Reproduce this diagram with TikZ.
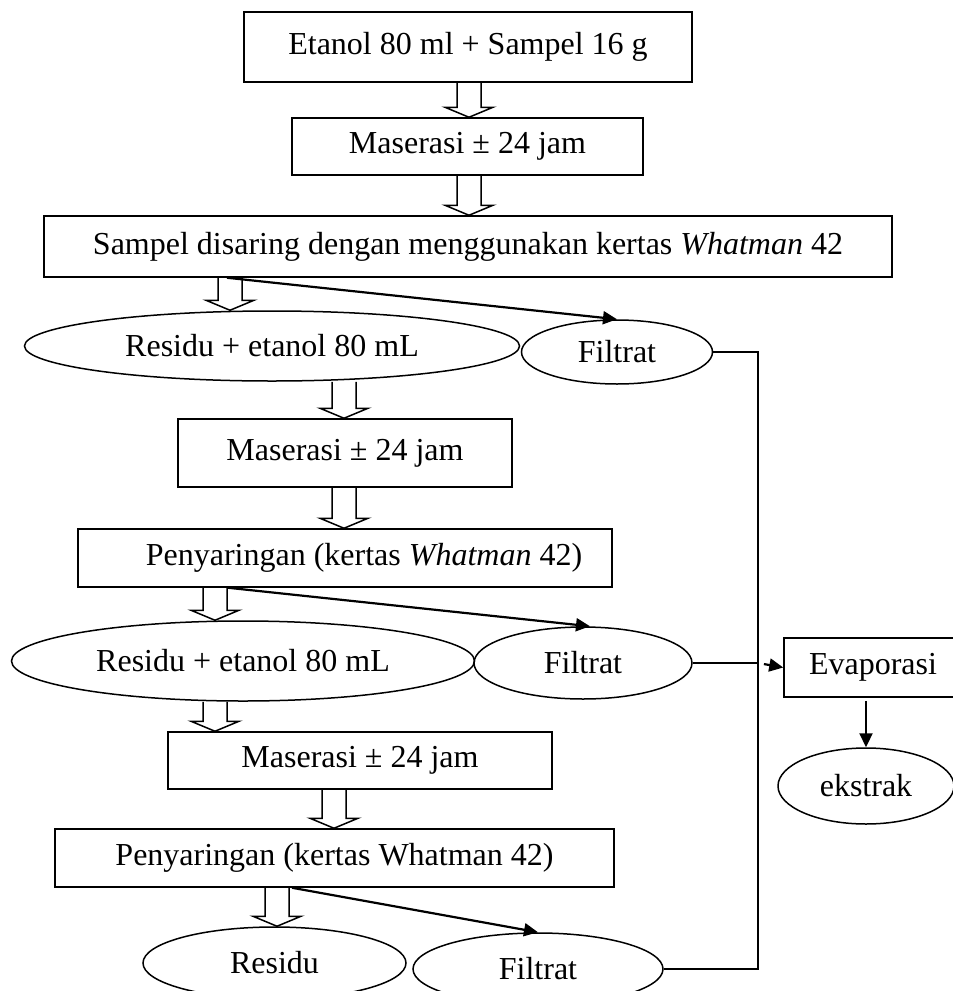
\documentclass[tikz,border=0pt]{standalone}
\usepackage{fontspec}
\setmainfont{Liberation Serif}
\usetikzlibrary{shapes.geometric,arrows.meta,calc}

% Hollow block arrow: #1 = x position, #2 = upper node, #3 = lower node
\newcommand{\hollowdown}[3]{%
  \coordinate (ha-x) at (#1,0);
  \coordinate (ha-top) at (#2.south -| ha-x);
  \coordinate (ha-tip) at (#3.north -| ha-x);
  \draw[hollow] ($(ha-top)+(-12,0)$) -- ($(ha-tip)+(-12,-10)$) -- ($(ha-tip)+(-24,-10)$)
    -- (ha-tip) -- ($(ha-tip)+(24,-10)$) -- ($(ha-tip)+(12,-10)$) -- ($(ha-top)+(12,0)$);
}

\begin{document}
\begin{tikzpicture}[x=1pt,y=-1pt,
    font=\fontsize{32}{38}\selectfont,
    box/.style={draw, line width=1.5pt, rectangle, inner sep=0pt},
    oval/.style={draw, line width=1.5pt, ellipse, inner sep=0pt},
    hollow/.style={line width=1.5pt},
    flow/.style={line width=2.2pt, -{Triangle[length=14pt,width=13pt]}},
    bus/.style={line width=1.5pt}]

    % Frame of the picture
    \clip (0,0) rectangle (953,991);

    % First maceration
    \node[box, minimum width=448pt, minimum height=70pt] (etanol) at (468,47) {Etanol 80 ml + Sampel 16 g};
    \node[box, minimum width=351pt, minimum height=57pt] (maser1) at (467.5,146.5) {Maserasi ± 24 jam};
    \node[box, minimum width=848pt, minimum height=61pt] (saring1) at (468,246.5) {Sampel disaring dengan menggunakan kertas \textit{Whatman} 42};
    \node[oval, minimum width=495pt, minimum height=70pt] (residu1) at (272,346) {Residu + etanol 80 mL};
    \node[oval, minimum width=191pt, minimum height=64pt] (filtrat1) at (617,352) {\raisebox{-6pt}{Filtrat}};

    % Second maceration
    \node[box, minimum width=334pt, minimum height=68pt] (maser2) at (345,453) {Maserasi ± 24 jam};
    \node[box, minimum width=534pt, minimum height=58pt] (saring2) at (345,558) {\hspace{38pt}Penyaringan (kertas \textit{Whatman} 42)};
    \node[oval, minimum width=463pt, minimum height=80pt] (residu2) at (243,661) {Residu + etanol 80 mL};
    \node[oval, minimum width=218pt, minimum height=72pt] (filtrat2) at (583,663) {\raisebox{-4pt}{Filtrat}};

    % Third maceration
    \node[box, minimum width=384pt, minimum height=57pt] (maser3) at (360,760.5) {Maserasi ± 24 jam};
    \node[box, minimum width=559pt, minimum height=58pt] (saring3) at (334.5,858) {Penyaringan (kertas Whatman 42)};
    \node[oval, minimum width=263pt, minimum height=72pt] (residu3) at (274.5,963) {Residu};
    \node[oval, minimum width=250pt, minimum height=72pt] (filtrat3) at (538,969) {Filtrat};

    % Evaporation
    \node[box, minimum width=178pt, minimum height=59pt] (evap) at (873,667.5) {Evaporasi};
    \node[oval, minimum width=176pt, minimum height=76pt] (ekstrak) at (866,786) {ekstrak};

    % Hollow arrows down the main line
    \hollowdown{469}{etanol}{maser1}
    \hollowdown{469}{maser1}{saring1}
    \hollowdown{230}{saring1}{residu1}
    \hollowdown{344}{residu1}{maser2}
    \hollowdown{344}{maser2}{saring2}
    \hollowdown{215}{saring2}{residu2}
    \hollowdown{215}{residu2}{maser3}
    \hollowdown{334}{maser3}{saring3}
    \hollowdown{277}{saring3}{residu3}

    % Filtrate arrows
    \coordinate (f1) at (227,0);
    \coordinate (f2) at (228,0);
    \coordinate (f3) at (292,0);
    \draw[flow] (saring1.south -| f1) -- (filtrat1.north);
    \draw[flow] (saring2.south -| f2) -- ($(filtrat2.north)+(7,0)$);
    \draw[flow] (saring3.south -| f3) -- (filtrat3.north);

    % Collecting line to the evaporator
    \coordinate (bus) at (758,0);
    \draw[bus] (filtrat1.east) -- (filtrat1.east -| bus) -- (filtrat3.east -| bus) -- (filtrat3.east);
    \draw[bus] (filtrat2.east) -- (filtrat2.east -| bus);
    \draw[flow, shorten <=6pt] (filtrat2.east -| bus) -- (evap.west);
    \draw[flow, shorten <=3pt] (evap.south -| ekstrak.north) -- (ekstrak.north);
\end{tikzpicture}
\end{document}
